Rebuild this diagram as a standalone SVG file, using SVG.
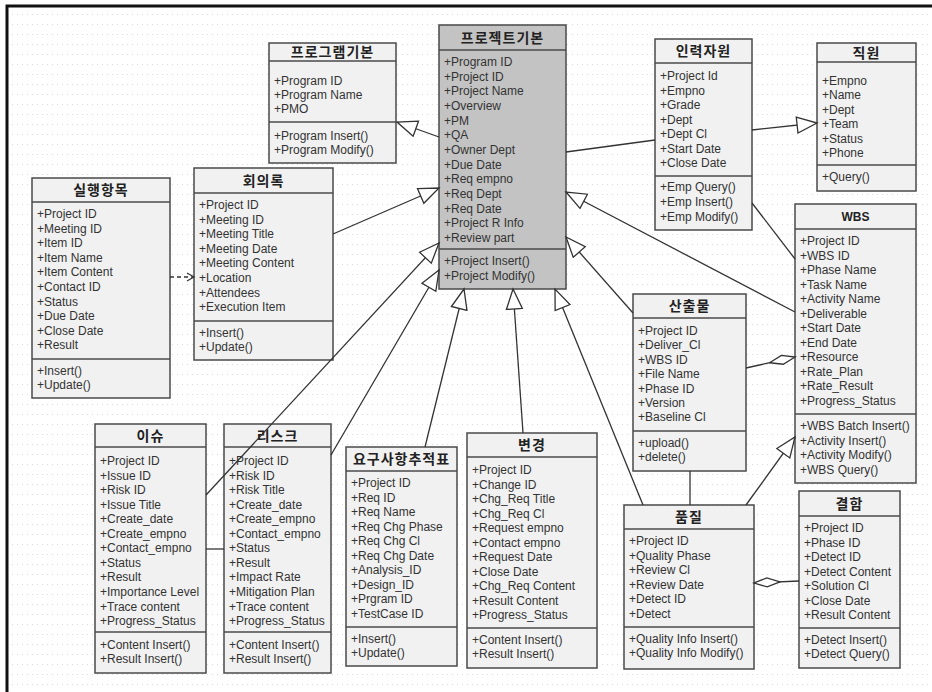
<svg xmlns="http://www.w3.org/2000/svg" width="932" height="692" viewBox="0 0 932 692">
  <defs>
    <style>
      .box { fill: #f1f1f1; stroke: #4a4a4a; stroke-width: 1.5; }
      .core { fill: #c3c3c3; }
      .sep { stroke: #4a4a4a; stroke-width: 1.5; }
      .t { font-family: "Liberation Sans", Arial, sans-serif; font-size: 12px; fill: #333; }
      .h { font-family: "Noto Sans CJK KR", "Liberation Sans", sans-serif; font-size: 14px; font-weight: bold; fill: #222; text-anchor: middle; letter-spacing: 1px; }
      .hl { font-family: "Liberation Sans", Arial, sans-serif; font-size: 12px; font-weight: bold; fill: #222; text-anchor: middle; }
      .c { stroke: #333; stroke-width: 1.3; fill: none; }
      .dash { stroke-dasharray: 4 3; }
      .gen { marker-end: url(#hollowTri); }
      .agg { marker-end: url(#hollowDiamond); }
      .dep { marker-end: url(#openArrow); }
    </style>
    <pattern id="grid" width="5" height="10" patternUnits="userSpaceOnUse">
      <rect x="2" y="4" width="1" height="1" fill="#dadada"/>
    </pattern>
    <marker id="hollowTri" markerUnits="userSpaceOnUse" markerWidth="24" markerHeight="20" refX="21" refY="9" orient="auto">
      <path d="M1,1 L21,9 L1,17 Z" fill="#fff" stroke="#333" stroke-width="1.3"/>
    </marker>
    <marker id="hollowDiamond" markerUnits="userSpaceOnUse" markerWidth="30" markerHeight="12" refX="27" refY="6" orient="auto">
      <path d="M1,6 L14,1.5 L27,6 L14,10.5 Z" fill="#fff" stroke="#333" stroke-width="1.3"/>
    </marker>
    <marker id="openArrow" markerUnits="userSpaceOnUse" markerWidth="10" markerHeight="10" refX="8" refY="5" orient="auto">
      <path d="M1,1 L8,5 L1,9" fill="none" stroke="#333" stroke-width="1.2"/>
    </marker>
  </defs>

  <!-- canvas -->
  <rect x="0" y="0" width="932" height="692" fill="#fff"/>
  <rect x="8" y="7" width="924" height="685" fill="url(#grid)"/>
  <path d="M7,692 V6 H932" fill="none" stroke="#111" stroke-width="3"/>

  <!-- 프로그램기본 -->
  <g id="program">
    <rect class="box" x="269" y="43" width="127" height="120"/>
    <line class="sep" x1="269" y1="61" x2="396" y2="61"/>
    <line class="sep" x1="269" y1="122" x2="396" y2="122"/>
    <text class="h" x="332.5" y="57">프로그램기본</text>
    <text class="t">
      <tspan x="274" y="85">+Program ID</tspan>
      <tspan x="274" y="99">+Program Name</tspan>
      <tspan x="274" y="113">+PMO</tspan>
      <tspan x="274" y="140">+Program Insert()</tspan>
      <tspan x="274" y="154">+Program Modify()</tspan>
    </text>
  </g>

  <!-- 프로젝트기본 -->
  <g id="project">
    <rect class="box core" x="439" y="25" width="127" height="264"/>
    <line class="sep" x1="439" y1="50" x2="566" y2="50"/>
    <line class="sep" x1="439" y1="249" x2="566" y2="249"/>
    <text class="h" x="502.5" y="43">프로젝트기본</text>
    <text class="t">
      <tspan x="444" y="66">+Program ID</tspan>
      <tspan x="444" y="80.7">+Project ID</tspan>
      <tspan x="444" y="95.3">+Project Name</tspan>
      <tspan x="444" y="110">+Overview</tspan>
      <tspan x="444" y="124.7">+PM</tspan>
      <tspan x="444" y="139.3">+QA</tspan>
      <tspan x="444" y="154">+Owner Dept</tspan>
      <tspan x="444" y="168.7">+Due Date</tspan>
      <tspan x="444" y="183.3">+Req empno</tspan>
      <tspan x="444" y="198">+Req Dept</tspan>
      <tspan x="444" y="212.7">+Req Date</tspan>
      <tspan x="444" y="227.3">+Project R Info</tspan>
      <tspan x="444" y="242">+Review part</tspan>
      <tspan x="444" y="265">+Project Insert()</tspan>
      <tspan x="444" y="280">+Project Modify()</tspan>
    </text>
  </g>

  <!-- 인력자원 -->
  <g id="staffing">
    <rect class="box" x="655" y="39" width="97" height="191"/>
    <line class="sep" x1="655" y1="63" x2="752" y2="63"/>
    <line class="sep" x1="655" y1="176" x2="752" y2="176"/>
    <text class="h" x="703.5" y="56">인력자원</text>
    <text class="t">
      <tspan x="660" y="80">+Project Id</tspan>
      <tspan x="660" y="94.5">+Empno</tspan>
      <tspan x="660" y="109">+Grade</tspan>
      <tspan x="660" y="123.5">+Dept</tspan>
      <tspan x="660" y="138">+Dept Cl</tspan>
      <tspan x="660" y="152.5">+Start Date</tspan>
      <tspan x="660" y="167">+Close Date</tspan>
      <tspan x="660" y="191">+Emp Query()</tspan>
      <tspan x="660" y="206">+Emp Insert()</tspan>
      <tspan x="660" y="221">+Emp Modify()</tspan>
    </text>
  </g>

  <!-- 직원 -->
  <g id="employee">
    <rect class="box" x="817" y="43" width="99" height="148"/>
    <line class="sep" x1="817" y1="62" x2="916" y2="62"/>
    <line class="sep" x1="817" y1="165" x2="916" y2="165"/>
    <text class="h" x="866.5" y="58">직원</text>
    <text class="t">
      <tspan x="822" y="85">+Empno</tspan>
      <tspan x="822" y="99.4">+Name</tspan>
      <tspan x="822" y="113.8">+Dept</tspan>
      <tspan x="822" y="128.2">+Team</tspan>
      <tspan x="822" y="142.6">+Status</tspan>
      <tspan x="822" y="157">+Phone</tspan>
      <tspan x="822" y="181">+Query()</tspan>
    </text>
  </g>

  <!-- WBS -->
  <g id="wbs">
    <rect class="box" x="795" y="204" width="121" height="279"/>
    <line class="sep" x1="795" y1="229" x2="916" y2="229"/>
    <line class="sep" x1="795" y1="414" x2="916" y2="414"/>
    <text class="hl" x="855.5" y="221">WBS</text>
    <text class="t">
      <tspan x="800" y="245">+Project ID</tspan>
      <tspan x="800" y="259.5">+WBS ID</tspan>
      <tspan x="800" y="274">+Phase Name</tspan>
      <tspan x="800" y="288.5">+Task Name</tspan>
      <tspan x="800" y="303">+Activity Name</tspan>
      <tspan x="800" y="317.5">+Deliverable</tspan>
      <tspan x="800" y="332">+Start Date</tspan>
      <tspan x="800" y="346.5">+End Date</tspan>
      <tspan x="800" y="361">+Resource</tspan>
      <tspan x="800" y="375.5">+Rate_Plan</tspan>
      <tspan x="800" y="390">+Rate_Result</tspan>
      <tspan x="800" y="404.5">+Progress_Status</tspan>
      <tspan x="800" y="430">+WBS Batch Insert()</tspan>
      <tspan x="800" y="444.6">+Activity Insert()</tspan>
      <tspan x="800" y="459.2">+Activity Modify()</tspan>
      <tspan x="800" y="473.8">+WBS Query()</tspan>
    </text>
  </g>

  <!-- 산출물 -->
  <g id="deliverable">
    <rect class="box" x="633" y="294" width="113" height="177"/>
    <line class="sep" x1="633" y1="318" x2="746" y2="318"/>
    <line class="sep" x1="633" y1="431" x2="746" y2="431"/>
    <text class="h" x="689.5" y="311">산출물</text>
    <text class="t">
      <tspan x="638" y="335">+Project ID</tspan>
      <tspan x="638" y="349.4">+Deliver_Cl</tspan>
      <tspan x="638" y="363.8">+WBS ID</tspan>
      <tspan x="638" y="378.2">+File Name</tspan>
      <tspan x="638" y="392.6">+Phase ID</tspan>
      <tspan x="638" y="407">+Version</tspan>
      <tspan x="638" y="421.4">+Baseline Cl</tspan>
      <tspan x="638" y="447">+upload()</tspan>
      <tspan x="638" y="461">+delete()</tspan>
    </text>
  </g>

  <!-- 실행항목 -->
  <g id="action-item">
    <rect class="box" x="32" y="178" width="138" height="220"/>
    <line class="sep" x1="32" y1="202" x2="170" y2="202"/>
    <line class="sep" x1="32" y1="359" x2="170" y2="359"/>
    <text class="h" x="101" y="195">실행항목</text>
    <text class="t">
      <tspan x="37" y="218">+Project ID</tspan>
      <tspan x="37" y="232.6">+Meeting ID</tspan>
      <tspan x="37" y="247.2">+Item ID</tspan>
      <tspan x="37" y="261.8">+Item Name</tspan>
      <tspan x="37" y="276.4">+Item Content</tspan>
      <tspan x="37" y="291">+Contact ID</tspan>
      <tspan x="37" y="305.6">+Status</tspan>
      <tspan x="37" y="320.2">+Due Date</tspan>
      <tspan x="37" y="334.8">+Close Date</tspan>
      <tspan x="37" y="349.4">+Result</tspan>
      <tspan x="37" y="375">+Insert()</tspan>
      <tspan x="37" y="389">+Update()</tspan>
    </text>
  </g>

  <!-- 회의록 -->
  <g id="minutes">
    <rect class="box" x="194" y="168" width="139" height="192"/>
    <line class="sep" x1="194" y1="193" x2="333" y2="193"/>
    <line class="sep" x1="194" y1="321" x2="333" y2="321"/>
    <text class="h" x="263.5" y="186">회의록</text>
    <text class="t">
      <tspan x="199" y="209">+Project ID</tspan>
      <tspan x="199" y="223.6">+Meeting ID</tspan>
      <tspan x="199" y="238.2">+Meeting Title</tspan>
      <tspan x="199" y="252.8">+Meeting Date</tspan>
      <tspan x="199" y="267.4">+Meeting Content</tspan>
      <tspan x="199" y="282">+Location</tspan>
      <tspan x="199" y="296.6">+Attendees</tspan>
      <tspan x="199" y="311.2">+Execution Item</tspan>
      <tspan x="199" y="337">+Insert()</tspan>
      <tspan x="199" y="351">+Update()</tspan>
    </text>
  </g>

  <!-- 이슈 -->
  <g id="issue">
    <rect class="box" x="95" y="424" width="111" height="249"/>
    <line class="sep" x1="95" y1="447" x2="206" y2="447"/>
    <line class="sep" x1="95" y1="632" x2="206" y2="632"/>
    <text class="h" x="150.5" y="441">이슈</text>
    <text class="t">
      <tspan x="100" y="465">+Project ID</tspan>
      <tspan x="100" y="479.6">+Issue ID</tspan>
      <tspan x="100" y="494.1">+Risk ID</tspan>
      <tspan x="100" y="508.7">+Issue Title</tspan>
      <tspan x="100" y="523.2">+Create_date</tspan>
      <tspan x="100" y="537.8">+Create_empno</tspan>
      <tspan x="100" y="552.3">+Contact_empno</tspan>
      <tspan x="100" y="566.9">+Status</tspan>
      <tspan x="100" y="581.4">+Result</tspan>
      <tspan x="100" y="596">+Importance Level</tspan>
      <tspan x="100" y="610.5">+Trace content</tspan>
      <tspan x="100" y="625">+Progress_Status</tspan>
      <tspan x="100" y="649">+Content Insert()</tspan>
      <tspan x="100" y="663">+Result Insert()</tspan>
    </text>
  </g>

  <!-- 리스크 -->
  <g id="risk">
    <rect class="box" x="224" y="424" width="107" height="249"/>
    <line class="sep" x1="224" y1="447" x2="331" y2="447"/>
    <line class="sep" x1="224" y1="632" x2="331" y2="632"/>
    <text class="h" x="277.5" y="441">리스크</text>
    <text class="t">
      <tspan x="229" y="465">+Project ID</tspan>
      <tspan x="229" y="479.6">+Risk ID</tspan>
      <tspan x="229" y="494.1">+Risk Title</tspan>
      <tspan x="229" y="508.7">+Create_date</tspan>
      <tspan x="229" y="523.2">+Create_empno</tspan>
      <tspan x="229" y="537.8">+Contact_empno</tspan>
      <tspan x="229" y="552.3">+Status</tspan>
      <tspan x="229" y="566.9">+Result</tspan>
      <tspan x="229" y="581.4">+Impact Rate</tspan>
      <tspan x="229" y="596">+Mitigation Plan</tspan>
      <tspan x="229" y="610.5">+Trace content</tspan>
      <tspan x="229" y="625">+Progress_Status</tspan>
      <tspan x="229" y="649">+Content Insert()</tspan>
      <tspan x="229" y="663">+Result Insert()</tspan>
    </text>
  </g>

  <!-- 요구사항추적표 -->
  <g id="req-trace">
    <rect class="box" x="346" y="447" width="111" height="219"/>
    <line class="sep" x1="346" y1="471" x2="457" y2="471"/>
    <line class="sep" x1="346" y1="627" x2="457" y2="627"/>
    <text class="h" x="401.5" y="464">요구사항추적표</text>
    <text class="t">
      <tspan x="351" y="487">+Project ID</tspan>
      <tspan x="351" y="501.5">+Req ID</tspan>
      <tspan x="351" y="516">+Req Name</tspan>
      <tspan x="351" y="530.5">+Req Chg Phase</tspan>
      <tspan x="351" y="545">+Req Chg Cl</tspan>
      <tspan x="351" y="559.5">+Req Chg Date</tspan>
      <tspan x="351" y="574">+Analysis_ID</tspan>
      <tspan x="351" y="588.5">+Design_ID</tspan>
      <tspan x="351" y="603">+Prgram ID</tspan>
      <tspan x="351" y="617.5">+TestCase ID</tspan>
      <tspan x="351" y="643">+Insert()</tspan>
      <tspan x="351" y="657">+Update()</tspan>
    </text>
  </g>

  <!-- 변경 -->
  <g id="change">
    <rect class="box" x="467" y="433" width="130" height="235"/>
    <line class="sep" x1="467" y1="457" x2="597" y2="457"/>
    <line class="sep" x1="467" y1="628" x2="597" y2="628"/>
    <text class="h" x="532" y="450">변경</text>
    <text class="t">
      <tspan x="472" y="474">+Project ID</tspan>
      <tspan x="472" y="488.5">+Change ID</tspan>
      <tspan x="472" y="503">+Chg_Req Title</tspan>
      <tspan x="472" y="517.5">+Chg_Req Cl</tspan>
      <tspan x="472" y="532">+Request empno</tspan>
      <tspan x="472" y="546.5">+Contact empno</tspan>
      <tspan x="472" y="561">+Request Date</tspan>
      <tspan x="472" y="575.5">+Close Date</tspan>
      <tspan x="472" y="590">+Chg_Req Content</tspan>
      <tspan x="472" y="604.5">+Result Content</tspan>
      <tspan x="472" y="619">+Progress_Status</tspan>
      <tspan x="472" y="644">+Content Insert()</tspan>
      <tspan x="472" y="658">+Result Insert()</tspan>
    </text>
  </g>

  <!-- 품질 -->
  <g id="quality">
    <rect class="box" x="624" y="505" width="130" height="164"/>
    <line class="sep" x1="624" y1="529" x2="754" y2="529"/>
    <line class="sep" x1="624" y1="627" x2="754" y2="627"/>
    <text class="h" x="689" y="522">품질</text>
    <text class="t">
      <tspan x="629" y="545">+Project ID</tspan>
      <tspan x="629" y="559.6">+Quality Phase</tspan>
      <tspan x="629" y="574.2">+Review Cl</tspan>
      <tspan x="629" y="588.8">+Review Date</tspan>
      <tspan x="629" y="603.4">+Detect ID</tspan>
      <tspan x="629" y="618">+Detect</tspan>
      <tspan x="629" y="643">+Quality Info Insert()</tspan>
      <tspan x="629" y="657">+Quality Info Modify()</tspan>
    </text>
  </g>

  <!-- 결함 -->
  <g id="defect">
    <rect class="box" x="799" y="491" width="101" height="177"/>
    <line class="sep" x1="799" y1="516" x2="900" y2="516"/>
    <line class="sep" x1="799" y1="628" x2="900" y2="628"/>
    <text class="h" x="849.5" y="509">결함</text>
    <text class="t">
      <tspan x="804" y="532">+Project ID</tspan>
      <tspan x="804" y="546.5">+Phase ID</tspan>
      <tspan x="804" y="561.1">+Detect ID</tspan>
      <tspan x="804" y="575.6">+Detect Content</tspan>
      <tspan x="804" y="590.2">+Solution Cl</tspan>
      <tspan x="804" y="604.7">+Close Date</tspan>
      <tspan x="804" y="619.3">+Result Content</tspan>
      <tspan x="804" y="644">+Detect Insert()</tspan>
      <tspan x="804" y="658">+Detect Query()</tspan>
    </text>
  </g>

  <!-- relationships -->
  <g id="connectors">
    <line class="c gen" x1="439" y1="137" x2="397" y2="122"/>
    <line class="c gen" x1="333" y1="234" x2="439" y2="188"/>
    <line class="c gen" x1="206" y1="495" x2="439" y2="243"/>
    <line class="c gen" x1="331" y1="455" x2="439" y2="270"/>
    <line class="c gen" x1="425" y1="447" x2="464" y2="289"/>
    <line class="c gen" x1="523" y1="433" x2="513" y2="289"/>
    <line class="c gen" x1="643" y1="505" x2="555" y2="289"/>
    <line class="c gen" x1="633" y1="313" x2="566" y2="237"/>
    <line class="c gen" x1="795" y1="312" x2="566" y2="192"/>
    <line class="c" x1="566" y1="152" x2="655" y2="140"/>
    <line class="c gen" x1="752" y1="130" x2="817" y2="123"/>
    <line class="c" x1="752" y1="203" x2="795" y2="259"/>
    <line class="c agg" x1="746" y1="368" x2="795" y2="357"/>
    <line class="c" x1="690" y1="471" x2="690" y2="505"/>
    <line class="c gen" x1="746" y1="505" x2="795" y2="437"/>
    <line class="c agg" x1="799" y1="581" x2="754" y2="583"/>
    <line class="c" x1="206" y1="549" x2="224" y2="549"/>
    <line class="c dash dep" x1="170" y1="277" x2="194" y2="277"/>
  </g>
</svg>
